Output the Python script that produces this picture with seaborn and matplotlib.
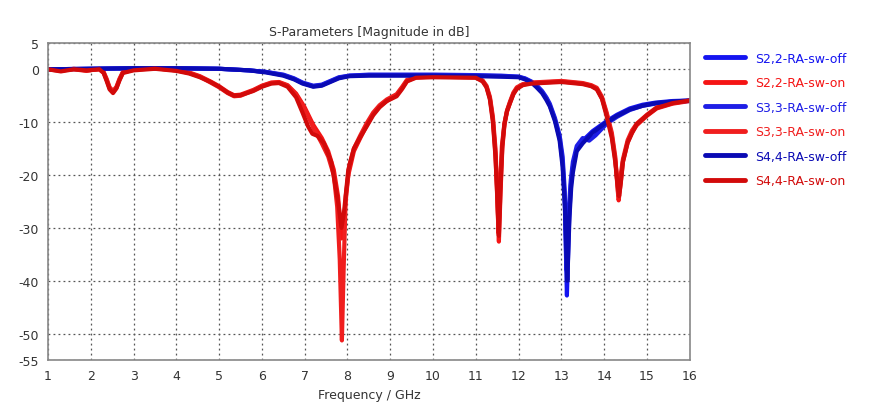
import numpy as np
import pandas as pd
import matplotlib
matplotlib.use("Agg")
import matplotlib.pyplot as plt
import seaborn as sns

# ---- data ----
f_off_22 = [1, 2, 3, 4, 5, 5.7, 6.1, 6.5, 6.75, 6.95, 7.2, 7.4, 7.6, 7.8, 8.05, 8.5, 9, 10, 11, 11.6, 12.0, 12.15,
            12.3, 12.42, 12.55, 12.65, 12.73, 12.85, 12.96, 13.03, 13.08, 13.13, 13.18, 13.22, 13.27, 13.36, 13.5,
            13.73, 14.06, 14.3, 14.6, 14.9, 15.2, 15.6, 16]
v_off_22 = [0, 0.1, 0.2, 0.2, 0.1, -0.2, -0.5, -1.1, -1.8, -2.6, -3.2, -3.0, -2.3, -1.6, -1.2, -1.1, -1.1, -1.1, -1.2, -1.3, -1.4, -1.8,
            -2.4, -3.2, -4.3, -5.5, -6.8, -9.5, -13, -17.5, -25, -42.8, -29, -22, -18.5, -15, -13.5,
            -11.7, -9.8, -8.6, -7.4, -6.7, -6.3, -6.0, -5.9]

f_off_33 = [1, 2, 3, 4, 5, 5.7, 6.1, 6.5, 6.75, 6.95, 7.2, 7.4, 7.6, 7.8, 8.05, 8.5, 9, 10, 11, 11.6, 12.0, 12.15,
            12.3, 12.42, 12.55, 12.65, 12.73, 12.85, 12.96, 13.03, 13.08, 13.12, 13.17, 13.22, 13.27, 13.36, 13.5,
            13.65, 13.8, 14.06, 14.3, 14.6, 14.9, 15.2, 15.6, 16]
v_off_33 = [0, 0.1, 0.2, 0.2, 0.1, -0.2, -0.5, -1.0, -1.7, -2.5, -3.1, -2.9, -2.2, -1.5, -1.2, -1.0, -1.0, -1.0, -1.1, -1.2, -1.4, -1.7,
            -2.3, -3.0, -4.1, -5.3, -6.5, -9.2, -12.5, -16.5, -23, -38, -27, -21, -17.5, -14.5, -13,
            -13.5, -12.5, -10.3, -9.0, -7.7, -6.9, -6.5, -6.1, -6.0]

f_off_44 = [1, 2, 3, 4, 5, 5.7, 6.1, 6.5, 6.75, 6.95, 7.2, 7.4, 7.6, 7.8, 8.05, 8.5, 9, 10, 11, 11.6, 12.0, 12.15,
            12.3, 12.42, 12.55, 12.65, 12.73, 12.85, 12.96, 13.03, 13.09, 13.14, 13.19, 13.23, 13.27, 13.36, 13.5,
            13.73, 14.06, 14.3, 14.6, 14.9, 15.2, 15.6, 16]
v_off_44 = [0, 0.1, 0.2, 0.2, 0.1, -0.2, -0.6, -1.2, -1.9, -2.7, -3.3, -3.1, -2.4, -1.7, -1.3, -1.2, -1.2, -1.2, -1.3, -1.4, -1.5, -1.9,
            -2.5, -3.4, -4.5, -5.8, -7.0, -9.8, -13.5, -18.5, -27, -40, -28, -22.5, -19.5, -15.5, -14,
            -12, -10.0, -8.8, -7.6, -6.9, -6.4, -6.1, -5.9]

f_on_22 = [1, 1.3, 1.6, 1.9, 2.2, 2.3, 2.37, 2.44, 2.52, 2.6, 2.67, 2.75, 3.0, 3.5, 4.0, 4.3, 4.55, 4.8, 5.0, 5.2, 5.35, 5.5,
           5.8, 6.0, 6.22, 6.4, 6.6, 6.8, 7.0, 7.2, 7.4, 7.55, 7.68, 7.78, 7.86, 7.92, 8.02, 8.15, 8.3, 8.45, 8.6, 8.75,
           8.92, 9.15, 9.28, 9.39, 9.6, 10, 11, 11.16, 11.25, 11.33, 11.4, 11.46, 11.5, 11.54, 11.58, 11.62, 11.67,
           11.73, 11.8, 11.88, 11.96, 12.1, 12.3, 13, 13.5, 13.7, 13.83, 13.95, 14.06, 14.18, 14.26, 14.31, 14.34,
           14.38, 14.44, 14.55, 14.65, 14.76, 15.0, 15.23, 15.6, 16]
v_on_22 = [0, -0.3, 0.1, -0.2, 0, -0.6, -2.0, -3.6, -4.3, -3.5, -2.0, -0.6, -0.1, 0.2, -0.2, -0.6, -1.3, -2.3, -3.2, -4.3, -4.9, -4.8,
           -3.9, -3.1, -2.5, -2.4, -3.0, -4.6, -7.2, -10.5, -13, -15.5, -19, -24, -32, -28, -20, -15.5, -13, -10.6, -8.5, -7.0,
           -6.0, -4.9, -3.5, -2.2, -1.5, -1.4, -1.5, -2.2, -3.3, -5.5, -9.5, -16, -24, -32.6, -23, -15, -10.5,
           -8.0, -6.3, -4.6, -3.6, -2.9, -2.6, -2.3, -2.7, -3.1, -3.7, -5.5, -8.5, -12.5, -17, -21.5, -24.8,
           -22, -17.5, -13.8, -12, -10.6, -8.8, -7.4, -6.5, -6.0]

f_on_33 = [1, 1.3, 1.6, 1.9, 2.2, 2.3, 2.37, 2.44, 2.52, 2.6, 2.67, 2.75, 3.0, 3.5, 4.0, 4.3, 4.55, 4.8, 5.0, 5.2, 5.35, 5.5,
           5.8, 6.0, 6.22, 6.4, 6.6, 6.8, 7.0, 7.2, 7.4, 7.55, 7.68, 7.76, 7.82, 7.87, 7.91, 7.96, 8.05, 8.15, 8.3, 8.45, 8.6, 8.75,
           8.92, 9.15, 9.28, 9.39, 9.6, 10, 11, 11.16, 11.25, 11.33, 11.4, 11.46, 11.5, 11.53, 11.57, 11.61, 11.67,
           11.73, 11.8, 11.88, 11.96, 12.1, 12.3, 13, 13.5, 13.7, 13.83, 13.95, 14.06, 14.18, 14.26, 14.3, 14.33,
           14.37, 14.44, 14.55, 14.65, 14.76, 15.0, 15.23, 15.6, 16]
v_on_33 = [0, -0.2, 0, -0.3, 0.1, -0.5, -1.8, -3.4, -4.1, -3.3, -1.8, -0.5, 0, 0.2, -0.2, -0.7, -1.4, -2.5, -3.4, -4.5, -5.1, -5.0,
           -4.0, -3.2, -2.6, -2.5, -3.1, -4.8, -7.5, -11, -14, -16.5, -20, -26, -36, -51.3, -38, -24, -18, -15, -12.5, -10.2, -8.2, -6.8,
           -5.7, -4.7, -3.3, -2.0, -1.5, -1.4, -1.5, -2.1, -3.1, -5.2, -9.0, -15, -22.5, -31, -22, -14.5, -10.2,
           -7.8, -6.1, -4.4, -3.4, -2.8, -2.5, -2.2, -2.6, -3.0, -3.5, -5.2, -8.2, -12, -16.5, -21, -24,
           -21, -17, -13.4, -11.6, -10.3, -8.6, -7.2, -6.4, -5.9]

f_on_44 = [1, 1.3, 1.6, 1.9, 2.2, 2.3, 2.37, 2.44, 2.52, 2.6, 2.67, 2.75, 3.0, 3.5, 4.0, 4.3, 4.55, 4.8, 5.0, 5.2, 5.35, 5.5,
           5.8, 6.0, 6.22, 6.4, 6.6, 6.8, 6.95, 7.08, 7.18, 7.3, 7.45, 7.62, 7.78, 7.86, 7.92, 8.02, 8.15, 8.3, 8.45, 8.6, 8.75,
           8.92, 9.15, 9.28, 9.39, 9.6, 10, 11, 11.16, 11.25, 11.33, 11.4, 11.46, 11.5, 11.54, 11.58, 11.62, 11.67,
           11.73, 11.8, 11.88, 11.96, 12.1, 12.3, 13, 13.5, 13.7, 13.83, 13.95, 14.06, 14.18, 14.26, 14.31, 14.35,
           14.39, 14.44, 14.55, 14.65, 14.76, 15.0, 15.23, 15.6, 16]
v_on_44 = [0, -0.4, 0, -0.2, 0, -0.7, -2.2, -3.8, -4.5, -3.6, -2.1, -0.7, -0.2, 0.1, -0.3, -0.8, -1.5, -2.4, -3.3, -4.4, -5.0, -4.9,
           -4.1, -3.3, -2.7, -2.6, -3.3, -5.3, -8.2, -10.8, -12.2, -12.6, -14, -17.5, -25, -30, -27, -19, -15, -12.8, -10.8, -8.7, -7.2,
           -6.0, -5.1, -3.7, -2.3, -1.6, -1.5, -1.6, -2.3, -3.4, -5.7, -10, -16.5, -23.5, -31.5, -22, -14.5, -10.3,
           -7.9, -6.4, -4.7, -3.7, -3.0, -2.7, -2.4, -2.8, -3.2, -3.8, -5.6, -8.9, -13, -17.5, -21.5, -24,
           -21.5, -17.5, -13.9, -12.1, -10.4, -8.7, -7.3, -6.4, -5.9]

series_names = ["S2,2-RA-sw-off", "S2,2-RA-sw-on", "S3,3-RA-sw-off",
                "S3,3-RA-sw-on", "S4,4-RA-sw-off", "S4,4-RA-sw-on"]
series_f = [f_off_22, f_on_22, f_off_33, f_on_33, f_off_44, f_on_44]
series_v = [v_off_22, v_on_22, v_off_33, v_on_33, v_off_44, v_on_44]

x_ticks = list(range(1, 17))
y_ticks = [5, 0, -10, -20, -30, -40, -50, -55]

frames = []
for name, fx, vy in zip(series_names, series_f, series_v):
    frames.append(pd.DataFrame({"Frequency": fx, "dB": vy, "series": name}))
df = pd.concat(frames, ignore_index=True)

palette = {
    "S2,2-RA-sw-off": "#1414f0",
    "S2,2-RA-sw-on": "#f51414",
    "S3,3-RA-sw-off": "#1e1ee6",
    "S3,3-RA-sw-on": "#f01e1e",
    "S4,4-RA-sw-off": "#0a0ab4",
    "S4,4-RA-sw-on": "#d20a0a",
}

sns.set_style("white")
plt.rcParams['font.family'] = ['DejaVu Sans']
plt.rcParams['axes.unicode_minus'] = False

fig = plt.figure(figsize=(8.73, 4.14), dpi=100)
ax = fig.add_axes([0.055, 0.128, 0.735, 0.766])

sns.lineplot(data=df, x="Frequency", y="dB", hue="series", hue_order=series_names,
             palette=palette, estimator=None, sort=True, linewidth=3.0, ax=ax)

ax.set_xlim(1, 16)
ax.set_ylim(-55, 5)
ax.set_xticks(x_ticks)
ax.set_yticks(y_ticks)
ax.tick_params(axis="both", labelsize=9, colors="#333333", length=3)
ax.grid(True, linestyle=(0, (1.5, 2.5)), color="#555555", linewidth=0.9)
for s in ax.spines.values():
    s.set_color("#888888")
    s.set_linewidth(1.2)
ax.set_xlabel("Frequency / GHz", fontsize=9, color="#333333", labelpad=4)
ax.set_ylabel("")
ax.set_title("S-Parameters [Magnitude in dB]", fontsize=9, color="#333333", pad=6)

leg = ax.legend(loc="upper left", bbox_to_anchor=(1.01, 1.0), frameon=False,
                fontsize=9, handlelength=3.2, labelcolor="linecolor",
                labelspacing=0.92, borderaxespad=0.3)
for line in leg.get_lines():
    line.set_linewidth(3.5)

fig.savefig("out.png", dpi=100)
